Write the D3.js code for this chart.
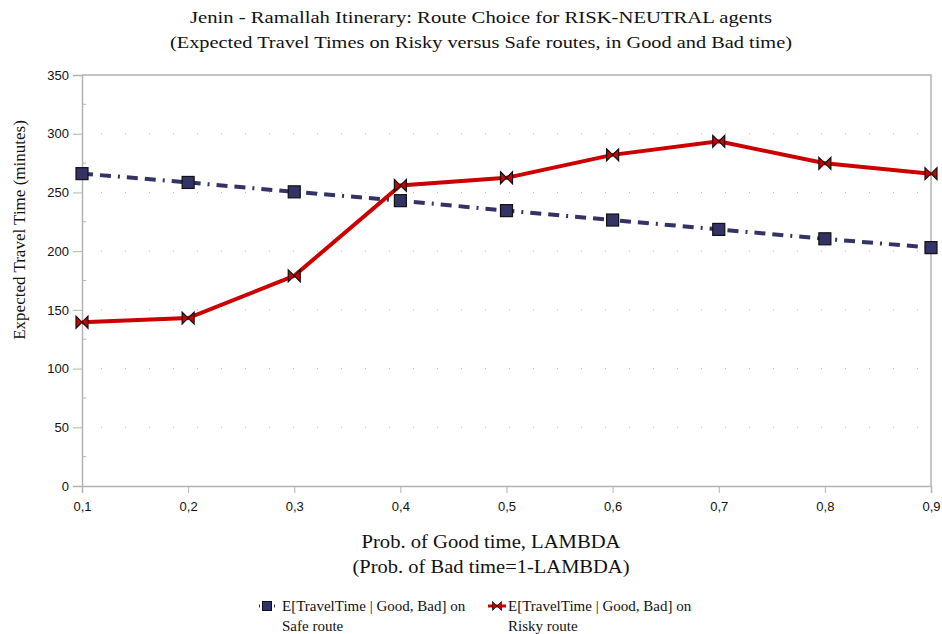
<!DOCTYPE html>
<html><head><meta charset="utf-8">
<script src="https://cdn.jsdelivr.net/npm/d3@7/dist/d3.min.js"></script>
<style>body{margin:0;background:#fff}</style>
</head><body><svg id="c" width="942" height="634"></svg>
<script>
const lambdas = [0.1,0.2,0.3,0.4,0.5,0.6,0.7,0.8,0.9];
const safeTimes = [266,258.5,250.5,243,234.5,226.5,218.5,210.5,203];
const riskyTimes = [139.5,143,179,256,262.5,282,293.5,274.8,266];
const yTicks = [0,50,100,150,200,250,300,350];
const titleLines = ["Jenin - Ramallah Itinerary:  Route Choice for  RISK-NEUTRAL agents","(Expected Travel Times on Risky versus Safe routes, in Good and Bad time)"];
const xTitleLines = ["Prob. of  Good time, LAMBDA","(Prob. of  Bad time=1-LAMBDA)"];
const yTitle = "Expected Travel Time (minutes)";
const legendLabels = [["E[TravelTime | Good, Bad] on","Safe route"],["E[TravelTime | Good, Bad] on","Risky route"]];

const svg = d3.select("#c");
const L=82,R=931,T=75,B=486;
const x = d3.scaleLinear().domain([0.1,0.9]).range([L,R]);
const y = d3.scaleLinear().domain([0,350]).range([B,T]);
const serif = "'Liberation Serif','Times New Roman',serif";
const sans = "'Liberation Sans',Arial,sans-serif";

// grid
svg.append("g").selectAll("line").data(yTicks.filter(d=>d>0&&d<350)).join("line")
  .attr("x1",L+19).attr("x2",R).attr("y1",d=>y(d)).attr("y2",d=>y(d))
  .attr("stroke","#b8b8b8").attr("stroke-width",1).attr("stroke-dasharray","1,23");
// frame
svg.append("path").attr("d",`M${L},${T}H${R}V${B}`).attr("fill","none").attr("stroke","#b3b3b3").attr("stroke-width",1.5);
// y axis
const ya = svg.append("g").attr("transform",`translate(${L},0)`)
  .call(d3.axisLeft(y).tickValues(yTicks).tickSize(9).tickPadding(4).tickFormat(d3.format("d")));
ya.select(".domain").attr("stroke","#b3b3b3").attr("stroke-width",1.5);
ya.selectAll(".tick line").attr("stroke","#b3b3b3");
ya.selectAll("text").attr("font-family",sans).attr("font-size",13).attr("fill","#111");
svg.append("g").selectAll("line").data(d3.range(25,350,50)).join("line")
  .attr("x1",L).attr("x2",L+4).attr("y1",d=>y(d)).attr("y2",d=>y(d)).attr("stroke","#b3b3b3");
// x axis
const xa = svg.append("g").attr("transform",`translate(0,${B})`)
  .call(d3.axisBottom(x).tickValues(lambdas).tickSize(7).tickPadding(9).tickFormat(d=>d3.format(".1f")(d).replace(".",",")));
xa.select(".domain").attr("stroke","#b3b3b3").attr("stroke-width",1.5);
xa.selectAll(".tick line").attr("stroke","#b3b3b3");
xa.selectAll("text").attr("font-family",sans).attr("font-size",13).attr("fill","#111");

// lines
const line = d3.line().x((d,i)=>x(lambdas[i])).y(d=>y(d));
svg.append("path").datum(safeTimes).attr("d",line).attr("fill","none")
  .attr("stroke","#333366").attr("stroke-width",4).attr("stroke-dasharray","11,7,11,7,2,7");
svg.append("path").datum(riskyTimes).attr("d",line).attr("fill","none")
  .attr("stroke","#cc0000").attr("stroke-width",4);
const bow = "M-6,-6L0,0L-6,6Z M6,-6L0,0L6,6Z";
svg.append("g").selectAll("rect").data(safeTimes).join("rect")
  .attr("x",(d,i)=>x(lambdas[i])-6).attr("y",d=>y(d)-6).attr("width",12).attr("height",12)
  .attr("fill","#333366").attr("stroke","#111").attr("stroke-width",1.2);
svg.append("g").selectAll("path").data(riskyTimes).join("path")
  .attr("transform",(d,i)=>`translate(${x(lambdas[i])},${y(d)})`).attr("d",bow)
  .attr("fill","#cc0000").attr("stroke","#111").attr("stroke-width",1.2).attr("stroke-linejoin","miter");

// titles
svg.append("g").selectAll("text").data(titleLines).join("text")
  .attr("x",481).attr("y",(d,i)=>23+i*25).attr("text-anchor","middle")
  .attr("font-family",serif).attr("font-size",17).attr("fill","#111")
  .attr("textLength",(d,i)=>[582,622][i]).attr("lengthAdjust","spacingAndGlyphs").text(d=>d);
svg.append("g").selectAll("text").data(xTitleLines).join("text")
  .attr("x",491).attr("y",(d,i)=>548+i*25).attr("text-anchor","middle")
  .attr("font-family",serif).attr("font-size",18).attr("fill","#111")
  .attr("textLength",(d,i)=>[259,277][i]).attr("lengthAdjust","spacingAndGlyphs").text(d=>d);
svg.append("text").attr("transform","translate(25,230) rotate(-90)").attr("text-anchor","middle")
  .attr("font-family",serif).attr("font-size",17).attr("fill","#111").text(yTitle);

// legend
const lg = svg.append("g");
const lx = [267,497];
lg.append("line").attr("x1",lx[0]-8).attr("x2",lx[0]+8).attr("y1",606).attr("y2",606)
  .attr("stroke","#333366").attr("stroke-width",3).attr("stroke-dasharray","1,2,10,2,1");
lg.append("rect").attr("x",lx[0]-4.5).attr("y",601.5).attr("width",9).attr("height",9)
  .attr("fill","#333366").attr("stroke","#111").attr("stroke-width",1);
lg.append("line").attr("x1",lx[1]-9).attr("x2",lx[1]+9).attr("y1",606).attr("y2",606)
  .attr("stroke","#cc0000").attr("stroke-width",3);
lg.append("path").attr("transform",`translate(${lx[1]},606) scale(0.75)`).attr("d",bow)
  .attr("fill","#cc0000").attr("stroke","#111").attr("stroke-width",1);
legendLabels.forEach((lines,k)=>{
  lines.forEach((t,j)=>{
    lg.append("text").attr("x",[282,508][k]).attr("y",611+j*20)
      .attr("font-family",serif).attr("font-size",15).attr("fill","#111").text(t);
  });
});
</script></body></html>
